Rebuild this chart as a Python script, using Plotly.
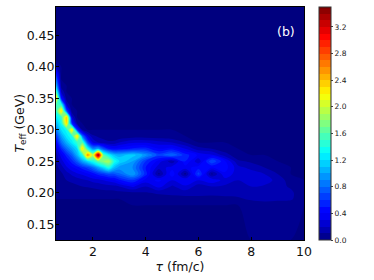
import plotly.graph_objects as go

tau = [0.6, 0.8, 1.0, 1.2, 1.4, 1.6, 1.8, 2.0, 2.2, 2.4, 2.6, 2.8, 3.0, 3.5, 4.0, 4.5, 5.0, 5.5, 6.0, 6.5, 7.0, 7.5, 8.0, 8.5, 9.0, 9.5, 10.0]
t_eff = [0.125, 0.18, 0.19, 0.20, 0.21, 0.22, 0.23, 0.24, 0.25, 0.26, 0.27, 0.28, 0.29, 0.30, 0.31, 0.32, 0.33, 0.34, 0.35, 0.36, 0.37, 0.38, 0.39, 0.40, 0.41, 0.495]

row_125 = [0] * 27
row_180 = [0] * 22 + [0.02, 0.04, 0.02, 0.02, 0]
row_190 = [0] * 13 + [0.02, 0.03, 0.04, 0.04, 0.05, 0.06, 0.06, 0.06, 0.08, 0.12, 0.14, 0.13, 0.12, 0]
row_200 = [.01, .01, .02, .03, .03, .04, .04, .05, .06, .06, .06, .06, .07, .08, .09, .12, .14, .15, .14, .13, .15, .14, .13, .14, .15, .13, 0]
row_210 = [.01, .03, .05, .07, .08, .1, .11, .12, .13, .15, .16, .17, .2, .32, .2, .34, .18, .28, .15, .2, .18, .14, .2, .18, .15, .08, 0]
row_220 = [.01, .05, .1, .12, .15, .18, .2, .24, .26, .3, .34, .38, .48, .6, .36, .42, .3, .4, .3, .38, .26, .2, .3, .26, .16, .05, 0]
row_230 = [.03, .08, .15, .22, .28, .32, .38, .45, .55, .62, .7, .7, .78, 1.0, .55, .07, .48, .06, .65, .07, .38, .24, .26, .2, .1, 0, 0]
row_240 = [.06, .15, .28, .38, .45, .55, .65, .8, 1.0, 1.2, 1.4, 1.1, .95, .9, .5, .24, .35, .35, .46, .4, .45, .24, .16, .1, .03, 0, 0]
row_250 = [.1, .25, .4, .55, .75, 1.0, 1.2, 1.4, 1.65, 1.8, 1.9, 1.4, 1.2, 1.0, .6, .35, .13, .5, .22, .7, .42, .12, .08, .03, 0, 0, 0]
row_260 = [.15, .35, .55, .75, 1.05, 1.4, 2.6, 1.9, 3.5, 1.6, 1.3, 1.1, 1.05, 1.15, .95, .65, .8, .55, .38, .32, .15, .03, 0, 0, 0, 0, 0]
row_270 = [.25, .55, .8, 1.0, 1.2, 2.3, 1.4, .9, 1.0, .7, .5, .42, .45, .52, .55, .4, .45, .3, .14, .1, .03, 0, 0, 0, 0, 0, 0]
row_280 = [.4, .8, 1.05, 1.25, 1.5, 1.6, .7, .3, .2, .15, .12, .13, .2, .28, .28, .24, .2, .1, 0, 0, 0, 0, 0, 0, 0, 0, 0]
row_290 = [.6, 1.0, 1.25, 1.4, 2.3, .8, .3, .12, .08, .05, .03, .02, .02, .04, .04, .03, .02] + [0] * 10
row_300 = [.85, 1.2, 1.35, 2.3, .6, .1] + [0] * 21
row_310 = [1.05, 1.35, 2.3, .6, .1] + [0] * 22
row_320 = [1.25, 1.5, 2.4, .25] + [0] * 23
row_330 = [1.45, 2.3, .7, .05] + [0] * 23
row_340 = [1.6, 1.4, .2] + [0] * 24
row_350 = [2.3, .5, .05] + [0] * 24
row_360 = [1.6, .2] + [0] * 25
row_370 = [1.1, .05] + [0] * 25
row_380 = [.8] + [0] * 26
row_390 = [.5] + [0] * 26
row_400 = [.2] + [0] * 26
row_410 = [0] * 27
row_495 = [0] * 27

z_rows = [row_125, row_180, row_190, row_200, row_210, row_220, row_230, row_240, row_250, row_260,
          row_270, row_280, row_290, row_300, row_310, row_320, row_330, row_340, row_350, row_360,
          row_370, row_380, row_390, row_400, row_410, row_495]

x_ticks = [2, 4, 6, 8, 10]
y_ticks = [0.15, 0.20, 0.25, 0.30, 0.35, 0.40, 0.45]
cbar_ticks = [0.0, 0.4, 0.8, 1.2, 1.6, 2.0, 2.4, 2.8, 3.2]

jet = [[0, "#00007f"], [0.11, "#0000ff"], [0.125, "#0000ff"], [0.375, "#00ffff"],
       [0.625, "#ffff00"], [0.875, "#ff0000"], [1, "#7f0000"]]

fig = go.Figure(go.Contour(
    x=tau, y=t_eff, z=z_rows, zmin=0, zmax=3.5, colorscale=jet,
    autocontour=False,
    contours=dict(start=0, end=3.5, size=0.1, coloring="fill", showlines=False),
    line=dict(width=0),
    colorbar=dict(
        x=1.06, xanchor="left", xpad=0, y=0, yanchor="bottom", ypad=0, len=1, lenmode="fraction",
        thickness=12, thicknessmode="pixels", tickmode="array", tickvals=cbar_ticks,
        ticktext=[f"{v:.1f}" for v in cbar_ticks], ticks="outside", ticklen=2, tickwidth=1,
        tickfont=dict(family="DejaVu Sans", size=7.5, color="#222222"),
        outlinewidth=1, outlinecolor="#333333",
    ),
))

fig.update_layout(
    width=374, height=280, margin=dict(l=56, r=70, t=7, b=40),
    paper_bgcolor="white", plot_bgcolor="#00007f",
    font=dict(family="DejaVu Sans", color="#111111"),
    xaxis=dict(range=[0.6, 10], tickvals=x_ticks, ticktext=[str(v) for v in x_ticks],
               ticks="inside", ticklen=3, tickcolor="black", showline=True, linecolor="black",
               linewidth=1, mirror=True, showgrid=False, zeroline=False,
               tickfont=dict(size=12.5),
               title=dict(text="<i>τ</i> (fm/c)", font=dict(size=12.5), standoff=0)),
    yaxis=dict(range=[0.125, 0.495], tickvals=y_ticks, ticktext=[f"{v:.2f}" for v in y_ticks],
               ticks="inside", ticklen=3, tickcolor="black", showline=True, linecolor="black",
               linewidth=1, mirror=True, showgrid=False, zeroline=False, ticklabelstandoff=-2,
               tickfont=dict(size=12.5)),
    annotations=[
        dict(text="(b)", x=9.3, y=0.4565, xref="x", yref="y", showarrow=False,
             font=dict(family="DejaVu Sans", size=12.5, color="white")),
        dict(text="<i>T</i><sub>eff</sub> (GeV)", x=-0.145, y=0.5, xref="paper", yref="paper",
             xanchor="center", yanchor="middle",
             textangle=-90, showarrow=False, font=dict(family="DejaVu Sans", size=12.5, color="#111111")),
    ],
)

fig.write_html("out.html", config={"displayModeBar": False},
               post_script="document.body.style.margin='0';document.documentElement.style.overflow='hidden';")
